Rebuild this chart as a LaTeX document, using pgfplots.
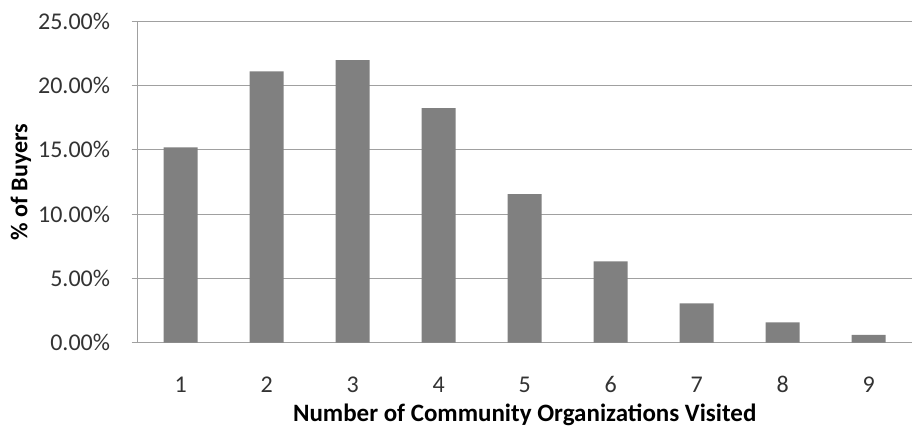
\documentclass[border=0pt]{standalone}
\usepackage{pgfplots}
\pgfplotsset{compat=1.18}
\usepackage{fontspec}
\setmainfont{Carlito}
\definecolor{barfill}{HTML}{808080}
\definecolor{gridc}{HTML}{A0A0A0}
\definecolor{labc}{HTML}{333333}
\newcommand{\tickfont}{\fontsize{24}{28}\selectfont}
\newcommand{\xlabfont}{\fontsize{25}{29}\selectfont\bfseries}
\newcommand{\ylabfont}{\fontsize{24}{28}\selectfont\bfseries}
\begin{document}
\begin{tikzpicture}
\begin{axis}[
  name=ax,
  scale only axis,
  width=774pt, height=321.4pt,
  xmin=0.5, xmax=9.5, ymin=0, ymax=25,
  xtick={1,2,3,4,5,6,7,8,9},
  xticklabels={1,2,3,4,5,6,7,8,9},
  ytick={0,5,10,15,20,25},
  yticklabels={0.00\%,5.00\%,10.00\%,15.00\%,20.00\%,25.00\%},
  ymajorgrids,
  grid style={gridc, line width=1.2pt},
  axis x line*=bottom, axis y line*=left,
  axis line style={gridc, line width=1.2pt},
  x tick style={draw=none},
  y tick style={gridc, line width=1.2pt},
  major tick length=6pt, tick align=outside,
  xticklabel style={font=\tickfont, text=labc, anchor=base, inner sep=0pt, yshift=-43.3pt},
  yticklabel style={font=\tickfont, text=labc, anchor=east, inner sep=0pt, xshift=-21.5pt},
  xlabel={Number of Community Organizations Visited},
  ylabel={\% of Buyers},
  every axis x label/.style={at={(axis description cs:0.5,-0.2436)}, anchor=base, font=\xlabfont, inner sep=0pt},
  every axis y label/.style={at={(axis description cs:-0.1508,0.5)}, rotate=90, anchor=center, font=\ylabfont, inner sep=0pt},
  ybar, bar width=34pt, bar shift=0pt,
]
\addplot[fill=barfill, draw=none] coordinates {
  (1,15.19) (2,21.10) (3,21.98) (4,18.25) (5,11.56)
  (6,6.33) (7,3.06) (8,1.59) (9,0.60)
};
\end{axis}
\pgfresetboundingbox
\path[use as bounding box] ([shift={(-137.7pt,-83.3pt)}]ax.south west) rectangle ([shift={(5.3pt,21.3pt)}]ax.north east);
\end{tikzpicture}
\end{document}
